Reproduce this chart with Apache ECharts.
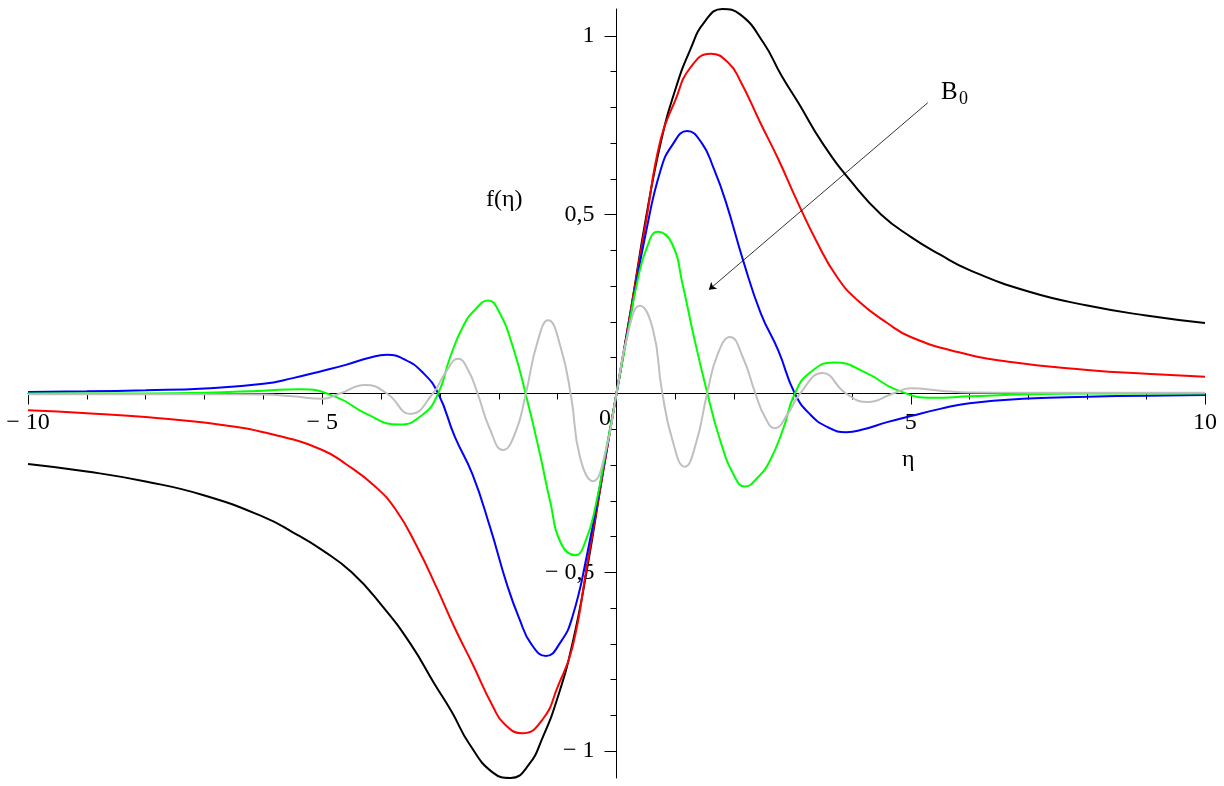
<!DOCTYPE html>
<html>
<head>
<meta charset="utf-8">
<script src="https://cdn.jsdelivr.net/npm/echarts@6/dist/echarts.min.js"></script>
<style>
  html, body { margin: 0; padding: 0; background: #fff; }
  #chart { width: 1224px; height: 786px; }
</style>
</head>
<body>
<div id="chart"></div>
<script>
// values, eta on x, f(eta) on y
var blackEta = [-10, -9, -8, -7, -6, -5.5, -5, -4.5, -4, -3.5, -3.1, -2.8, -2.5, -2.1, -1.8, -1.5, -1.25, -1, -0.75, -0.5, -0.25,
  0, 0.25, 0.5, 0.75, 1, 1.25, 1.5, 1.8, 2.1, 2.5, 2.8, 3.1, 3.5, 4, 4.5, 5, 5.5, 6, 7, 8, 9, 10]
var blackF = [-0.197, -0.218, -0.246, -0.285, -0.345, -0.388, -0.438, -0.50, -0.59, -0.70, -0.81, -0.89, -0.98, -1.06, -1.075, -1.04, -0.96, -0.85, -0.70, -0.49, -0.24,
  0, 0.24, 0.49, 0.70, 0.85, 0.96, 1.04, 1.075, 1.06, 0.98, 0.89, 0.81, 0.70, 0.59, 0.50, 0.438, 0.388, 0.345, 0.285, 0.246, 0.218, 0.197]

var redEta = [-10, -9, -8, -6.7, -5.8, -5, -4.6, -4.1, -3.75, -3.4, -3.05, -2.75, -2.45, -2.1, -1.9, -1.6, -1.25, -1, -0.75, -0.5, -0.25,
  0, 0.25, 0.5, 0.75, 1, 1.25, 1.6, 1.9, 2.1, 2.45, 2.75, 3.05, 3.4, 3.75, 4.1, 4.6, 5, 5.8, 6.7, 8, 9, 10]
var redF = [-0.047, -0.055, -0.066, -0.088, -0.116, -0.158, -0.197, -0.26, -0.325, -0.425, -0.545, -0.655, -0.755, -0.875, -0.925, -0.95, -0.91, -0.82, -0.71, -0.48, -0.24,
  0, 0.24, 0.48, 0.71, 0.82, 0.91, 0.95, 0.925, 0.875, 0.755, 0.655, 0.545, 0.425, 0.325, 0.26, 0.197, 0.158, 0.116, 0.088, 0.066, 0.055, 0.047]

var blueEta = [-10, -9, -8, -7, -6, -5.5, -5, -4.6, -4.2, -3.9, -3.6, -3.3, -3.03, -2.75, -2.45, -2.15, -1.85, -1.65, -1.45, -1.2, -0.95, -0.75, -0.5, -0.25,
  0, 0.25, 0.5, 0.75, 0.95, 1.2, 1.45, 1.65, 1.85, 2.15, 2.45, 2.75, 3.03, 3.3, 3.6, 3.9, 4.2, 4.6, 5, 5.5, 6, 7, 8, 9, 10]
var blueF = [0.004, 0.006, 0.009, 0.014, 0.027, 0.043, 0.063, 0.08, 0.10, 0.108, 0.095, 0.06, 0, -0.12, -0.225, -0.373, -0.54, -0.63, -0.70, -0.734, -0.695, -0.625, -0.45, -0.23,
  0, 0.23, 0.45, 0.625, 0.695, 0.734, 0.70, 0.63, 0.54, 0.373, 0.225, 0.12, 0, -0.06, -0.095, -0.108, -0.10, -0.08, -0.063, -0.043, -0.027, -0.014, -0.009, -0.006, -0.004]

var greenEta = [-10, -8, -7, -6, -5.38, -4.76, -4.25, -3.7, -3.3, -3.03, -2.83, -2.6, -2.4, -2.18, -2, -1.76, -1.53, -1.3, -1.13, -0.94, -0.7, -0.52, -0.35, -0.18,
  0, 0.18, 0.35, 0.52, 0.7, 0.94, 1.13, 1.3, 1.53, 1.76, 2, 2.18, 2.4, 2.6, 2.83, 3.03, 3.3, 3.7, 4.25, 4.76, 5.38, 6, 7, 8, 10]
var greenF = [0, 0, 0.002, 0.008, 0.012, -0.01, -0.057, -0.087, -0.06, 0, 0.10, 0.19, 0.235, 0.26, 0.23, 0.13, -0.01, -0.17, -0.30, -0.42, -0.452, -0.41, -0.31, -0.16,
  0, 0.16, 0.31, 0.41, 0.452, 0.42, 0.30, 0.17, 0.01, -0.13, -0.23, -0.26, -0.235, -0.19, -0.10, 0, 0.06, 0.087, 0.057, 0.01, -0.012, -0.008, -0.002, 0, 0]

var greyEta = [-10, -7, -6, -5.5, -5, -4.7, -4.27, -3.9, -3.5, -3.12, -2.9, -2.69, -2.52, -2.36, -2.15, -1.93, -1.72, -1.54, -1.35, -1.16, -0.95, -0.77, -0.62, -0.4, -0.18,
  0, 0.18, 0.4, 0.62, 0.77, 0.95, 1.16, 1.35, 1.54, 1.72, 1.93, 2.15, 2.36, 2.52, 2.69, 2.9, 3.12, 3.5, 3.9, 4.27, 4.7, 5, 5.5, 6, 7, 10]
var greyF = [-0.002, -0.002, -0.003, -0.008, -0.015, 0, 0.024, 0, -0.057, 0, 0.06, 0.097, 0.065, 0, -0.10, -0.158, -0.11, 0, 0.14, 0.205, 0.13, -0.01, -0.178, -0.245, -0.158,
  0, 0.158, 0.245, 0.178, 0.01, -0.13, -0.205, -0.14, 0, 0.11, 0.158, 0.10, 0, -0.065, -0.097, -0.06, 0, 0.057, 0, -0.024, 0, 0.015, 0.008, 0.003, 0.002, 0.002]

var yLabels = [-1, -0.5, 0.5, 1]
var yMinor = [-1, -0.9, -0.8, -0.7, -0.6, -0.5, -0.4, -0.3, -0.2, -0.1, 0.1, 0.2, 0.3, 0.4, 0.5, 0.6, 0.7, 0.8, 0.9, 1]

// B0 arrow, from label down to the curves
var arrowFrom = [5.29, 0.813]
var arrowTo = [1.57, 0.29]

var FONT = '"Liberation Serif", "Times New Roman", serif'

// plot box, axes moved onto the zero lines by offset
var GRID = { left: 28, right: 19, top: 9, bottom: 8, containLabel: false, outerBoundsMode: 'none' }
var X_OFF = -384.5   // bottom edge (778) up to y = 0 (393.5)
var Y_OFF = -588.5   // left edge (28) right to x = 0 (616.5)

function pairs(xs, ys) {
  return xs.map(function (x, i) { return [x, ys[i]] })
}

function curve(name, color, xs, ys) {
  return {
    name: name,
    type: 'line',
    xAxisIndex: 0,
    yAxisIndex: 0,
    data: pairs(xs, ys),
    showSymbol: false,
    symbol: 'none',
    smooth: 0.5,
    lineStyle: { color: color, width: 2 },
    itemStyle: { color: color }
  }
}

function numLabel(v) {
  if (v === 0) return ''
  var s = String(Math.abs(v)).replace('.', ',')
  return v < 0 ? '\u2212 ' + s : s
}

function txt(s, size) {
  return { text: s, fontFamily: FONT, fontSize: size, fill: '#000' }
}

var chart = echarts.init(document.getElementById('chart'))

var series = [
  curve('black', '#000000', blackEta, blackF),
  curve('red', '#ff0000', redEta, redF),
  curve('blue', '#0000ff', blueEta, blueF),
  curve('green', '#00ff00', greenEta, greenF),
  curve('grey', '#bfbfbf', greyEta, greyF)
]
series[0].markLine = {
  silent: true,
  symbol: ['none', 'arrow'],
  symbolSize: 7,
  label: { show: false },
  lineStyle: { color: '#000', width: 0.8, type: 'solid' },
  data: [[{ coord: arrowFrom }, { coord: arrowTo }]]
}

chart.setOption({
  animation: false,
  backgroundColor: '#fff',
  grid: [Object.assign({}, GRID), Object.assign({}, GRID)],
  xAxis: [{
    type: 'value',
    gridIndex: 0,
    min: -10,
    max: 10,
    interval: 5,
    position: 'bottom',
    offset: X_OFF,
    axisLine: { onZero: false, lineStyle: { color: '#000', width: 1 } },
    axisTick: { show: true, length: 11, lineStyle: { color: '#000' } },
    minorTick: { show: true, splitNumber: 5, length: 6, lineStyle: { color: '#000' } },
    splitLine: { show: false },
    axisLabel: {
      margin: 17,
      color: '#000',
      fontFamily: FONT,
      fontSize: 24,
      formatter: numLabel
    }
  }, {
    type: 'value',
    gridIndex: 1,
    min: -10,
    max: 10,
    show: false
  }],
  yAxis: [{
    type: 'value',
    gridIndex: 0,
    min: -1.075,
    max: 1.075,
    position: 'left',
    offset: Y_OFF,
    axisLine: { show: true, onZero: false, lineStyle: { color: '#000', width: 1 } },
    axisTick: { show: true, length: 12, customValues: yLabels, lineStyle: { color: '#000' } },
    splitLine: { show: false },
    axisLabel: {
      customValues: yLabels,
      margin: 22,
      color: '#000',
      fontFamily: FONT,
      fontSize: 24,
      formatter: numLabel
    }
  }, {
    type: 'value',
    gridIndex: 1,
    min: -1.075,
    max: 1.075,
    position: 'left',
    offset: Y_OFF,
    axisLine: { show: false, onZero: false },
    axisTick: { show: true, length: 6, customValues: yMinor, lineStyle: { color: '#000' } },
    axisLabel: { show: false },
    splitLine: { show: false }
  }],
  graphic: [
    { type: 'text', left: 599, top: 407, style: txt('0', 24) },
    { type: 'text', left: 902, top: 448, style: txt('\u03b7', 24) },
    { type: 'text', left: 486, top: 188, style: txt('f(\u03b7)', 24) },
    { type: 'text', left: 941, top: 80, style: txt('B', 25) },
    { type: 'text', left: 959, top: 90, style: txt('0', 18) }
  ],
  series: series
})
</script>
</body>
</html>
